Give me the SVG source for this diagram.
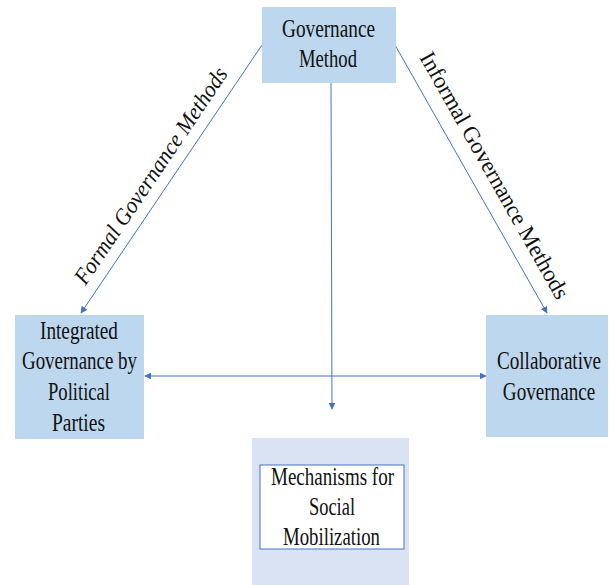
<svg xmlns="http://www.w3.org/2000/svg" width="609" height="585" viewBox="0 0 609 585">
<defs>
<marker id="ah" viewBox="0 0 10 10" refX="9" refY="5" markerWidth="7" markerHeight="7" orient="auto-start-reverse" markerUnits="userSpaceOnUse">
<path d="M0,0 L10,5 L0,10 Z" fill="#4472c4"/>
</marker>
<style>
.box{fill:#bdd7ee}
.t{font-family:"Liberation Serif","DejaVu Serif",serif;font-size:25px;fill:#111;text-anchor:middle}
.lbl{font-family:"Liberation Serif","DejaVu Serif",serif;font-size:23px;fill:#111;text-anchor:middle}
.ln{stroke:#4472c4;stroke-width:1;fill:none}
</style>
</defs>
<rect width="609" height="585" fill="#fff"/>
<g id="connectors">
<line class="ln" x1="262" y1="45" x2="81" y2="313" marker-end="url(#ah)"/>
<line class="ln" x1="395" y1="45" x2="547" y2="313" marker-end="url(#ah)"/>
<line class="ln" x1="331" y1="83" x2="332" y2="409" marker-end="url(#ah)"/>
<line class="ln" x1="145" y1="376" x2="486" y2="376" marker-start="url(#ah)" marker-end="url(#ah)"/>
<text class="lbl" font-style="italic" transform="translate(157,180) rotate(-56)" textLength="256" lengthAdjust="spacingAndGlyphs">Formal Governance Methods</text>
<text class="lbl" transform="translate(488,179) rotate(60.5)" textLength="280" lengthAdjust="spacingAndGlyphs">Informal Governance Methods</text>
</g>
<g id="governance-method">
<rect class="box" x="262" y="7" width="134" height="76"/>
<text class="t" x="328.5" y="37" textLength="93" lengthAdjust="spacingAndGlyphs">Governance</text>
<text class="t" x="328" y="67" textLength="58" lengthAdjust="spacingAndGlyphs">Method</text>
</g>
<g id="integrated-governance">
<rect class="box" x="15" y="315" width="129" height="124"/>
<text class="t" x="79" y="339" textLength="78" lengthAdjust="spacingAndGlyphs">Integrated</text>
<text class="t" x="79.5" y="369" textLength="115" lengthAdjust="spacingAndGlyphs">Governance by</text>
<text class="t" x="79" y="400" textLength="62" lengthAdjust="spacingAndGlyphs">Political</text>
<text class="t" x="78.5" y="431" textLength="53" lengthAdjust="spacingAndGlyphs">Parties</text>
</g>
<g id="collaborative-governance">
<rect class="box" x="486" y="315" width="122" height="122"/>
<g transform="translate(549,0) scale(0.765,1)">
<text class="t" x="0" y="369">Collaborative</text>
<text class="t" x="0" y="400">Governance</text>
</g>
</g>
<g id="social-mobilization">
<rect x="252" y="438" width="157" height="147" fill="#dae3f3"/>
<rect x="260" y="465" width="144" height="84" fill="#fff" stroke="#4472c4" stroke-width="1"/>
<text class="t" x="332.5" y="485" textLength="123" lengthAdjust="spacingAndGlyphs">Mechanisms for</text>
<text class="t" x="332" y="515" textLength="46" lengthAdjust="spacingAndGlyphs">Social</text>
<text class="t" x="331.5" y="545" textLength="97" lengthAdjust="spacingAndGlyphs">Mobilization</text>
</g>
</svg>
